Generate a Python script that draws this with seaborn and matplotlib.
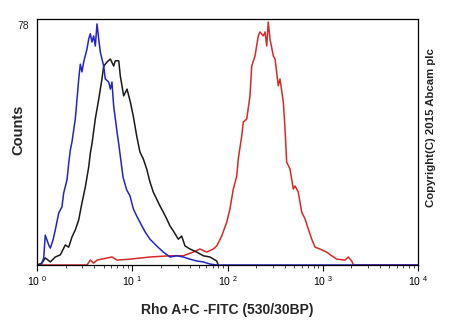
import numpy as np
import pandas as pd
import matplotlib
matplotlib.use("Agg")
import matplotlib.pyplot as plt
import seaborn as sns
from matplotlib.ticker import LogLocator, NullFormatter, FixedLocator

# ---- data (log10 of FITC intensity, counts) ----
blue_log = [0.042, 0.070, 0.087, 0.123, 0.140, 0.168, 0.192, 0.228, 0.262, 0.280, 0.315, 0.333, 0.350,
            0.367, 0.402, 0.420, 0.438, 0.455, 0.472, 0.490, 0.525, 0.543, 0.560, 0.577, 0.595, 0.612,
            0.630, 0.648, 0.665, 0.700, 0.717, 0.753, 0.770, 0.787, 0.805, 0.840, 0.858, 0.903, 0.942,
            0.976, 1.011, 1.047, 1.081, 1.134, 1.186, 1.257, 1.326, 1.396, 1.467, 1.536, 1.606, 1.677,
            1.746, 1.816, 1.887, 4.0]
blue_counts = [0, 2.2, 9.7, 6.5, 5.5, 8.1, 11.4, 16.9, 18.9, 23.4, 27.7, 33.1, 37.4,
               40.0, 47.5, 53.9, 60.5, 65.3, 62.8, 66.0, 70.3, 73.5, 75.2, 72.5, 74.5, 71.2,
               78.4, 73.5, 69.2, 64.7, 60.5, 59.5, 57.2, 59.5, 51.7, 43.3, 39.4, 28.6, 24.4,
               22.5, 18.3, 15.9, 13.9, 10.8, 8.4, 6.2, 4.2, 2.6, 3.0, 2.6, 1.9, 1.3,
               1.0, 0.3, 0, 0]

black_log = [0.0, 0.052, 0.087, 0.140, 0.192, 0.245, 0.297, 0.333, 0.367, 0.402, 0.438, 0.472, 0.507,
             0.543, 0.560, 0.577, 0.612, 0.648, 0.682, 0.700, 0.735, 0.770, 0.805, 0.822, 0.858, 0.875,
             0.892, 0.910, 0.945, 0.980, 1.011, 1.047, 1.081, 1.116, 1.152, 1.186, 1.221, 1.257, 1.291,
             1.326, 1.362, 1.396, 1.431, 1.483, 1.519, 1.554, 1.606, 1.677, 1.746, 1.816, 1.887, 1.903]
black_counts = [0, 0.6, 2.3, 1.0, 2.6, 3.3, 6.5, 5.8, 9.1, 11.4, 14.7, 20.2, 25.3,
                31.9, 36.4, 39.4, 47.5, 53.9, 60.5, 64.7, 66.0, 67.0, 64.7, 66.4, 66.4, 61.4,
                58.3, 55.0, 57.2, 53.0, 48.4, 41.9, 36.7, 34.5, 31.2, 27.0, 23.7, 21.4, 19.2,
                17.2, 15.0, 12.7, 11.1, 8.4, 9.4, 6.2, 5.2, 4.2, 3.0, 2.6, 1.3, 0]

red_log = [0.0, 0.525, 0.560, 0.595, 0.630, 0.787, 0.840, 0.976, 1.186, 1.396, 1.536, 1.641, 1.711,
           1.782, 1.851, 1.887, 1.939, 1.992, 2.026, 2.061, 2.097, 2.113, 2.149, 2.166, 2.202, 2.236,
           2.254, 2.289, 2.323, 2.341, 2.376, 2.394, 2.412, 2.428, 2.446, 2.481, 2.499, 2.533, 2.551,
           2.586, 2.604, 2.621, 2.656, 2.691, 2.709, 2.743, 2.779, 2.814, 2.848, 2.884, 2.919, 2.971,
           3.041, 3.094, 3.147, 3.234, 3.268, 3.304, 3.321, 4.0]
red_counts = [0, 0, 1.6, 0.6, 1.6, 2.6, 1.6, 1.9, 2.6, 3.0, 3.0, 4.2, 5.2,
              4.2, 5.2, 6.2, 9.4, 13.9, 18.3, 24.7, 28.9, 34.5, 41.9, 46.5, 47.5, 55.0,
              64.7, 68.0, 74.5, 75.8, 74.5, 75.8, 71.2, 79.0, 73.5, 68.0, 67.0, 58.3, 60.5,
              53.0, 44.2, 33.5, 31.2, 24.7, 25.7, 23.7, 17.2, 15.0, 11.7, 8.4, 5.8, 5.2,
              4.2, 3.0, 1.9, 1.6, 2.6, 1.3, 0, 0]

x_tick_exps = ["0", "1", "2", "3", "4"]
y_max_label = 78
x_label = "Rho A+C -FITC (530/30BP)"
y_label = "Counts"
copyright_text = "Copyright(C) 2015 Abcam plc"

# ---- style ----
sns.set_style("ticks")
plt.rcParams["font.family"] = ["Liberation Sans", "DejaVu Sans"]
plt.rcParams["mathtext.fontset"] = "custom"
plt.rcParams["mathtext.rm"] = "Liberation Sans"

fig = plt.figure(figsize=(4.5, 3.3), dpi=100)
ax = fig.add_axes([37 / 450, 65 / 330, 381 / 450, 246 / 330])

frames = []
for name, lg, ct in [("red", red_log, red_counts), ("black", black_log, black_counts),
                     ("blue", blue_log, blue_counts)]:
    frames.append(pd.DataFrame({"fl": 10 ** np.array(lg), "count": ct, "series": name}))
df = pd.concat(frames, ignore_index=True)

colors = {"red": "#d42a2a", "black": "#1a1a1a", "blue": "#2424c8"}
for name in ["red", "black", "blue"]:
    sub = df[df["series"] == name]
    sns.lineplot(data=sub, x="fl", y="count", color=colors[name], linewidth=1.1,
                 estimator=None, sort=False, ax=ax, legend=False)

ax.set_xscale("log")
ax.set_xlim(1, 1e4)
ax.set_ylim(0, 80)

ax.xaxis.set_major_locator(FixedLocator([1, 10, 100, 1000, 10000]))
ax.set_xticklabels([r"$\mathregular{10^{\ %s}}$" % e for e in x_tick_exps], fontsize=7.5)
ax.xaxis.set_minor_locator(LogLocator(base=10, subs=np.arange(2, 10)))
ax.xaxis.set_minor_formatter(NullFormatter())
ax.tick_params(axis="x", which="major", length=4, width=0.8, direction="out", pad=2.5, colors="black")
ax.tick_params(axis="x", which="minor", length=2.5, width=0.6, direction="out")

ax.set_yticks([y_max_label])
ax.set_yticklabels([str(y_max_label)], fontsize=7.5)
ax.tick_params(axis="y", length=0, pad=6)

for s in ax.spines.values():
    s.set_visible(True)
    s.set_linewidth(0.9)
    s.set_color("black")

ax.set_xlabel(x_label, fontsize=10, fontweight="bold", labelpad=11)
ax.set_ylabel(y_label, fontsize=10.5, fontweight="bold")
ax.yaxis.set_label_coords(-0.031, 0.55)

fig.text(431 / 450, 1 - 128 / 330, copyright_text, rotation=90, fontsize=8.2,
         fontweight="bold", color="#222222", ha="center", va="center")

fig.savefig("out.png", dpi=100, facecolor="white")
